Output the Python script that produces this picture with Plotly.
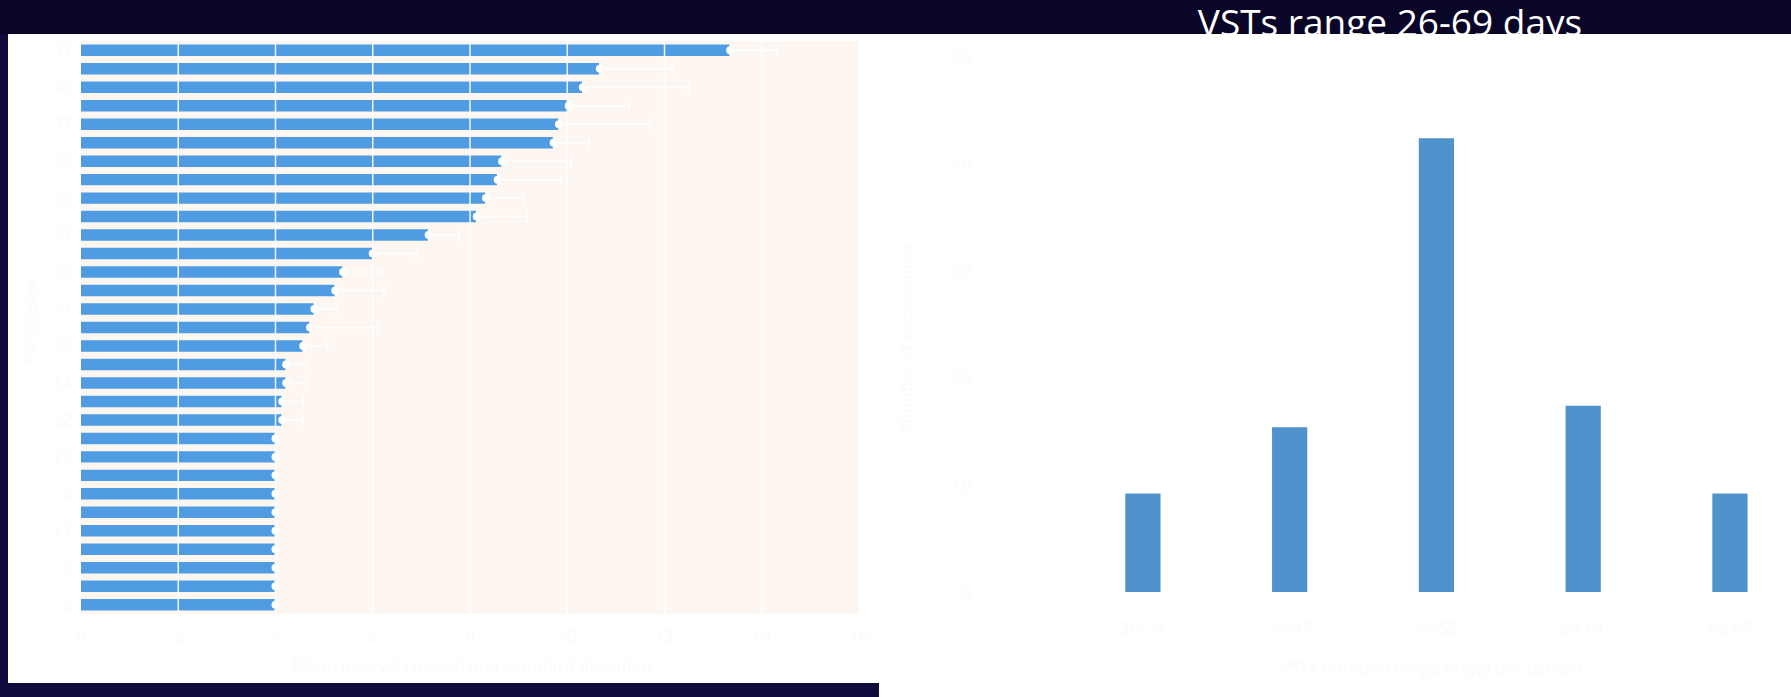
import plotly.graph_objects as go

# ---- Left panel: mean interval per participant with standard deviation ----
participants = ["31", "30", "40", "39", "37", "20", "35", "36", "25", "32", "21",
                "29", "38", "28", "27", "16", "23", "10", "14", "13", "22", "9",
                "17", "7", "8", "1", "11", "4", "3", "6", "2"]
mean_interval = [13.35, 10.67, 10.32, 10.03, 9.83, 9.72, 8.66, 8.57, 8.33, 8.14, 7.15,
                 6.00, 5.39, 5.23, 4.80, 4.71, 4.57, 4.22, 4.22, 4.14, 4.14, 4.0,
                 4.0, 4.0, 4.0, 4.0, 4.0, 4.0, 4.0, 4.0, 4.0]
sd_interval = [0.95, 1.49, 2.17, 1.25, 1.87, 0.73, 1.42, 1.30, 0.77, 1.04, 0.62,
               0.90, 0.80, 1.00, 0.45, 1.40, 0.50, 0.40, 0.40, 0.43, 0.43, None,
               None, None, None, None, None, None, None, None, None]
interval_ticks = [0, 2, 4, 6, 8, 10, 12, 14, 16]

# ---- Right panel: distribution of VST lengths ----
vst_bins = ["26-34", "35-43", "44-52", "53-61", "62-69"]
vst_counts = [9.2, 15.4, 42.4, 17.4, 9.2]
count_ticks = [0, 10, 20, 30, 40, 50]

slide_title = "VSTs range 26-69 days"

W, H = 1791, 697
NAVY_TOP = "#0a0628"
NAVY_EDGE = "#0f0b3c"
GHOST = "#fbfbfb"
FONT = "Open Sans"


def px_x(p):
    return p / W


def px_y(p):
    return 1 - p / H


fig = go.Figure()

fig.add_trace(go.Bar(
    x=mean_interval, y=participants, orientation="h", width=0.62,
    marker=dict(color="#509ce2", line=dict(width=0)),
    error_x=dict(type="data", symmetric=False, array=sd_interval,
                 arrayminus=[0] * len(sd_interval), color="white",
                 thickness=1.5, width=6),
    xaxis="x", yaxis="y", showlegend=False,
))
fig.add_trace(go.Scatter(
    x=mean_interval, y=participants, mode="markers",
    marker=dict(color="white", size=8, line=dict(width=0)),
    xaxis="x", yaxis="y", showlegend=False,
))

fig.add_trace(go.Bar(
    x=vst_bins, y=vst_counts, width=0.24,
    marker=dict(color="#4f92cc", line=dict(width=0)),
    xaxis="x2", yaxis="y2", showlegend=False,
))

# slide heading, partly hidden behind the white content panel below it
fig.add_trace(go.Scatter(
    x=[px_x(1390)], y=[0.22], mode="text", text=[slide_title],
    textposition="middle center", cliponaxis=True,
    textfont=dict(family=FONT, size=37, color="white"),
    xaxis="x3", yaxis="y3", showlegend=False,
))

shapes = [
    # white content panels
    dict(type="rect", xref="paper", yref="paper", x0=px_x(8), x1=px_x(881),
         y0=px_y(683), y1=px_y(34), fillcolor="white", line=dict(width=0), layer="below"),
    dict(type="rect", xref="paper", yref="paper", x0=px_x(879), x1=1,
         y0=0, y1=px_y(34), fillcolor="white", line=dict(width=0), layer="below"),
    # bottom strip and left edge
    dict(type="rect", xref="paper", yref="paper", x0=0, x1=px_x(879),
         y0=0, y1=px_y(683), fillcolor=NAVY_EDGE, line=dict(width=0), layer="below"),
    dict(type="rect", xref="paper", yref="paper", x0=0, x1=px_x(8),
         y0=0, y1=px_y(34), fillcolor=NAVY_EDGE, line=dict(width=0), layer="below"),
    # plot area tint of the left chart
    dict(type="rect", xref="x domain", yref="y domain", x0=0, x1=1, y0=0, y1=1,
         fillcolor="#fdf6f1", line=dict(width=0), layer="below"),
]
# white gridlines running over the bars
for t in interval_ticks[1:-1]:
    shapes.append(dict(type="line", xref="x", yref="y domain", x0=t, x1=t, y0=0, y1=1,
                       line=dict(color="rgba(255,255,255,0.9)", width=1.5), layer="above"))

annotations = [
    dict(text="Mean interval (weeks) and standard deviation", xref="paper", yref="paper",
         x=px_x(472), y=px_y(665), showarrow=False, xanchor="center", yanchor="middle",
         font=dict(family=FONT, size=17, color=GHOST)),
    dict(text="Participant", xref="paper", yref="paper", textangle=-90,
         x=px_x(30), y=px_y(320), showarrow=False, xanchor="center", yanchor="middle",
         font=dict(family=FONT, size=17, color=GHOST)),
    dict(text="VSTs duration range (days) per patient", xref="paper", yref="paper",
         x=px_x(1431), y=px_y(667), showarrow=False, xanchor="center", yanchor="middle",
         font=dict(family=FONT, size=17, color=GHOST)),
    dict(text="Number of occurrences", xref="paper", yref="paper", textangle=-90,
         x=px_x(906), y=px_y(338), showarrow=False, xanchor="center", yanchor="middle",
         font=dict(family=FONT, size=17, color=GHOST)),
]

tickfont = dict(family=FONT, size=17, color=GHOST)
n_rows = len(participants)

fig.update_layout(
    width=W, height=H, margin=dict(l=0, r=0, t=0, b=0, pad=0), autosize=False,
    paper_bgcolor=NAVY_TOP, plot_bgcolor="rgba(0,0,0,0)",
    bargap=0.37, shapes=shapes, annotations=annotations,
    xaxis=dict(domain=[px_x(81), px_x(859)], range=[0, 16], tickvals=interval_ticks,
               showgrid=False, zeroline=False, showline=False, ticks="",
               tickfont=tickfont, ticklabelstandoff=10, anchor="y", automargin=False),
    yaxis=dict(domain=[px_y(614), px_y(41)], type="category",
               categoryorder="array", categoryarray=participants,
               range=[n_rows - 0.5, -0.5],
               showgrid=False, zeroline=False, showline=False, ticks="",
               tickfont=tickfont, ticklabelstandoff=8, anchor="x", automargin=False),
    xaxis2=dict(domain=[px_x(980), 1], type="category", range=[-1.11, 4.416],
                showgrid=False, zeroline=False, showline=False, ticks="",
                tickfont=tickfont, ticklabelstandoff=24, anchor="y2", automargin=False),
    yaxis2=dict(domain=[px_y(592), px_y(57)], range=[0, 50], tickvals=count_ticks,
                showgrid=False, zeroline=False, showline=False, ticks="",
                tickfont=tickfont, ticklabelstandoff=8, anchor="x2", automargin=False),
    xaxis3=dict(domain=[0, 1], range=[0, 1], visible=False, anchor="y3", automargin=False),
    yaxis3=dict(domain=[px_y(34), 1], range=[0, 1], visible=False, anchor="x3",
                automargin=False),
    hovermode=False,
)

fig.write_html(
    "out.html",
    config={"displayModeBar": False},
    post_script="document.body.style.margin='0';"
                "document.documentElement.style.overflow='hidden';",
)
